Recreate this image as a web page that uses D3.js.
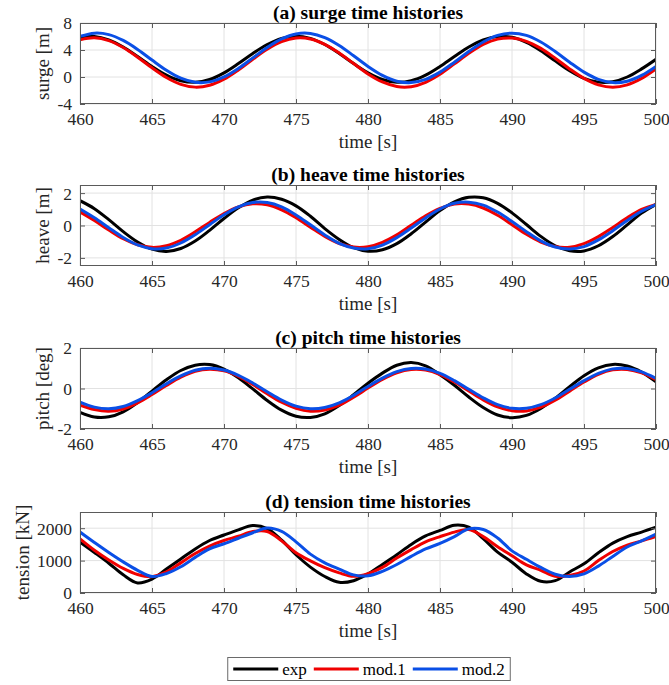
<!DOCTYPE html>
<html>
<head>
<meta charset="utf-8">
<script src="https://cdn.jsdelivr.net/npm/d3@7"></script>
<style>
  body { margin: 0; background: #fff; }
  svg { display: block; }
</style>
</head>
<body>
<svg id="chart" width="669" height="685"></svg>
<script>
// Sample times [s]
const time = d3.range(460, 501, 1);
const timeTicks = [460, 465, 470, 475, 480, 485, 490, 495, 500];

// Surge [m]
const surgeExp  = [5.88,6.01,5.50,4.44,3.03,1.55,0.27,-0.56,-0.79,-0.37,0.62,1.99,3.48,4.81,5.72,6.04,5.72,4.81,3.48,1.99,0.62,-0.37,-0.79,-0.56,0.27,1.55,3.03,4.44,5.50,6.01,5.88,5.13,3.90,2.39,0.93,-0.19,-0.76,-0.69,0.00,1.20,2.62];
const surgeMod1 = [5.52,5.80,5.39,4.37,2.94,1.36,-0.07,-1.09,-1.50,-1.22,-0.32,1.05,2.63,4.11,5.23,5.77,5.63,4.84,3.55,1.99,0.46,-0.74,-1.41,-1.43,-0.78,0.41,1.94,3.50,4.83,5.61,5.77,5.29,4.24,2.79,1.20,-0.20,-1.16,-1.50,-1.16,-0.20,1.20];
const surgeMod2 = [6.01,6.49,6.28,5.42,4.09,2.51,1.00,-0.18,-0.78,-0.72,0.02,1.28,2.83,4.38,5.64,6.38,6.45,5.84,4.67,3.15,1.57,0.24,-0.62,-0.83,-0.35,0.72,2.19,3.78,5.19,6.16,6.50,6.16,5.19,3.78,2.19,0.72,-0.35,-0.83,-0.62,0.24,1.57];
const surgeTicks = [-4, 0, 4, 8];

// Heave [m]
const heaveExp  = [1.53,1.04,0.36,-0.38,-1.02,-1.46,-1.60,-1.42,-0.96,-0.30,0.43,1.09,1.57,1.76,1.62,1.21,0.57,-0.19,-0.86,-1.37,-1.59,-1.50,-1.12,-0.51,0.21,0.92,1.46,1.74,1.71,1.37,0.78,0.06,-0.67,-1.25,-1.56,-1.57,-1.25,-0.68,0.04,0.77,1.30];
const heaveMod1 = [0.84,0.31,-0.28,-0.82,-1.19,-1.35,-1.25,-0.91,-0.39,0.19,0.74,1.15,1.34,1.28,0.97,0.48,-0.10,-0.67,-1.11,-1.33,-1.31,-1.04,-0.58,0.01,0.60,1.06,1.32,1.32,1.08,0.63,0.05,-0.54,-1.02,-1.30,-1.34,-1.12,-0.69,-0.12,0.48,0.99,1.30];
const heaveMod2 = [1.02,0.48,-0.14,-0.74,-1.20,-1.43,-1.39,-1.08,-0.57,0.05,0.66,1.15,1.42,1.42,1.15,0.65,0.04,-0.58,-1.10,-1.39,-1.44,-1.21,-0.75,-0.16,0.47,1.02,1.37,1.44,1.26,0.83,0.25,-0.38,-0.95,-1.33,-1.45,-1.30,-0.89,-0.32,0.31,0.88,1.29];
const heaveTicks = [-2, 0, 2];

// Pitch [deg]
const pitchExp  = [-1.18,-1.41,-1.40,-1.15,-0.69,-0.13,0.43,0.89,1.15,1.18,0.96,0.53,-0.02,-0.59,-1.07,-1.37,-1.43,-1.25,-0.84,-0.31,0.26,0.76,1.15,1.28,1.12,0.68,0.16,-0.42,-0.94,-1.31,-1.44,-1.33,-0.99,-0.48,0.09,0.63,1.02,1.19,1.11,0.81,0.33];
const pitchMod1 = [-0.82,-1.04,-1.12,-1.01,-0.71,-0.30,0.15,0.56,0.85,0.95,0.87,0.60,0.20,-0.26,-0.68,-0.98,-1.12,-1.06,-0.82,-0.43,0.02,0.45,0.78,0.94,0.91,0.69,0.32,-0.12,-0.56,-0.91,-1.10,-1.11,-0.92,-0.58,-0.13,0.32,0.70,0.92,0.94,0.77,0.43];
const pitchMod2 = [-0.67,-0.92,-1.00,-0.89,-0.60,-0.21,0.23,0.62,0.90,1.00,0.91,0.65,0.27,-0.16,-0.57,-0.87,-1.00,-0.94,-0.71,-0.34,0.10,0.51,0.83,0.99,0.96,0.75,0.39,-0.04,-0.46,-0.80,-0.98,-0.98,-0.80,-0.47,-0.04,0.39,0.75,0.97,0.99,0.82,0.50];
const pitchTicks = [-2, 0, 2];

// Tension [kN]
const tensionExp  = [1570,1250,920,560,310,430,740,1050,1360,1620,1790,1950,2080,1990,1630,1180,800,510,330,380,590,880,1180,1500,1760,1930,2090,2030,1680,1260,950,590,360,380,650,900,1240,1540,1740,1880,2030];
const tensionMod1 = [1670,1320,1020,760,570,505,650,930,1220,1450,1620,1750,1900,1900,1610,1240,990,780,620,515,600,790,1080,1340,1580,1740,1880,1960,1740,1430,1150,870,700,520,540,680,1000,1280,1480,1610,1750];
const tensionMod2 = [1880,1560,1250,960,700,510,600,810,1100,1360,1520,1690,1860,2005,1900,1580,1200,930,740,560,530,670,880,1130,1360,1530,1740,1980,1960,1700,1300,1040,790,580,510,590,830,1130,1420,1610,1820];
const tensionTicks = [0, 1000, 2000];

const seriesNames = ["exp", "mod.1", "mod.2"];
const seriesColors = ["#000000", "#f00000", "#0a4fe6"];

const panels = [
  { title: "(a) surge time histories",   ylabel: "surge [m]",    domain: [-4, 8],     ticks: surgeTicks,   data: [surgeExp, surgeMod1, surgeMod2] },
  { title: "(b) heave time histories",   ylabel: "heave [m]",    domain: [-2.5, 2.5], ticks: heaveTicks,   data: [heaveExp, heaveMod1, heaveMod2] },
  { title: "(c) pitch time histories",   ylabel: "pitch [deg]",  domain: [-2, 2],     ticks: pitchTicks,   data: [pitchExp, pitchMod1, pitchMod2] },
  { title: "(d) tension time histories", ylabel: "tension [kN]", domain: [0, 2500],   ticks: tensionTicks, data: [tensionExp, tensionMod1, tensionMod2] }
];

// Layout
const svg = d3.select("#chart");
const font = "'Liberation Serif', 'Times New Roman', 'DejaVu Serif', serif";
const plotLeft = 80, plotRight = 656, plotH = 81;
const panelTops = [23, 185, 348, 512];
const frameColor = "#5a5a5a";
const gridColor = "#e2e2e2";
const tickLen = 5;

panels.forEach((p, i) => {
  const top = panelTops[i];
  const bottom = top + plotH;
  const x = d3.scaleLinear().domain([460, 500]).range([plotLeft, plotRight]);
  const y = d3.scaleLinear().domain(p.domain).range([bottom, top]);
  const g = svg.append("g");

  // grid
  g.append("g").selectAll("line").data(timeTicks).join("line")
    .attr("x1", d => x(d)).attr("x2", d => x(d))
    .attr("y1", top).attr("y2", bottom)
    .attr("stroke", gridColor).attr("stroke-width", 1);
  g.append("g").selectAll("line").data(p.ticks).join("line")
    .attr("x1", plotLeft).attr("x2", plotRight)
    .attr("y1", d => y(d)).attr("y2", d => y(d))
    .attr("stroke", gridColor).attr("stroke-width", 1);

  // series
  const clipId = "clip" + i;
  svg.append("clipPath").attr("id", clipId).append("rect")
    .attr("x", plotLeft).attr("y", top).attr("width", plotRight - plotLeft).attr("height", plotH);
  const line = d3.line()
    .x((d, k) => x(time[k]))
    .y(d => y(d))
    .curve(d3.curveCatmullRom.alpha(0.5));
  g.append("g").attr("clip-path", `url(#${clipId})`)
    .selectAll("path").data(p.data).join("path")
    .attr("d", d => line(d))
    .attr("fill", "none")
    .attr("stroke", (d, k) => seriesColors[k])
    .attr("stroke-width", 3)
    .attr("stroke-linejoin", "round")
    .attr("stroke-linecap", "round");

  // axes (inward ticks on all four sides)
  const axB = g.append("g").attr("transform", `translate(0,${bottom})`)
    .call(d3.axisBottom(x).tickValues(timeTicks).tickFormat(d3.format("d"))
      .tickSizeInner(-tickLen).tickSizeOuter(0).tickPadding(9));
  const axT = g.append("g").attr("transform", `translate(0,${top})`)
    .call(d3.axisTop(x).tickValues(timeTicks).tickFormat("")
      .tickSizeInner(-tickLen).tickSizeOuter(0));
  const axL = g.append("g").attr("transform", `translate(${plotLeft},0)`)
    .call(d3.axisLeft(y).tickValues(p.ticks).tickFormat(d => String(d))
      .tickSizeInner(-tickLen).tickSizeOuter(0).tickPadding(8));
  const axR = g.append("g").attr("transform", `translate(${plotRight},0)`)
    .call(d3.axisRight(y).tickValues(p.ticks).tickFormat("")
      .tickSizeInner(-tickLen).tickSizeOuter(0));
  [axB, axT, axL, axR].forEach(a => {
    a.attr("font-family", null).attr("font-size", null);
    a.select(".domain").remove();
    a.selectAll(".tick line").attr("stroke", frameColor);
    a.selectAll("text")
      .style("font-family", font).style("font-size", "17.5px").attr("fill", "#262626");
  });
  axL.selectAll("text").attr("dy", "0.34em");

  // frame
  g.append("rect")
    .attr("x", plotLeft + 0.5).attr("y", top + 0.5)
    .attr("width", plotRight - plotLeft - 1).attr("height", plotH - 1)
    .attr("fill", "none").attr("stroke", frameColor).attr("stroke-width", 1);

  // title
  g.append("text")
    .attr("x", (plotLeft + plotRight) / 2).attr("y", top - 4)
    .attr("text-anchor", "middle")
    .style("font-family", font).style("font-weight", "bold").style("font-size", "19.5px")
    .attr("fill", "#000")
    .text(p.title);

  // x label
  g.append("text")
    .attr("x", (plotLeft + plotRight) / 2).attr("y", bottom + 44)
    .attr("text-anchor", "middle")
    .style("font-family", font).style("font-size", "19px").attr("fill", "#262626")
    .text("time [s]");

  // y label placed just left of the widest tick label
  let minX = plotLeft;
  axL.selectAll("text").each(function () {
    const b = this.getBBox();
    const m = this.getCTM();
    minX = Math.min(minX, b.x + m.e);
  });
  g.append("text")
    .attr("transform", `translate(${minX - 8},${top + plotH / 2}) rotate(-90)`)
    .attr("text-anchor", "middle")
    .style("font-family", font).style("font-size", "19px").attr("fill", "#262626")
    .text(p.ylabel);
});

// legend
const legY = 657, legH = 23, lineLen = 45;
const leg = svg.append("g");
const legBox = leg.append("rect")
  .attr("y", legY + 0.5).attr("height", legH)
  .attr("fill", "#fff").attr("stroke", "#6a6a6a").attr("stroke-width", 1);
let cx = 0;
const items = leg.append("g");
seriesNames.forEach((name, k) => {
  const it = items.append("g").attr("transform", `translate(${cx},0)`);
  it.append("line")
    .attr("x1", 0).attr("x2", lineLen)
    .attr("y1", legY + legH / 2 + 0.5).attr("y2", legY + legH / 2 + 0.5)
    .attr("stroke", seriesColors[k]).attr("stroke-width", 3);
  const t = it.append("text")
    .attr("x", lineLen + 4).attr("y", legY + legH / 2 + 6)
    .style("font-family", font).style("font-size", "17px").attr("fill", "#000")
    .text(name);
  cx += lineLen + 4 + t.node().getComputedTextLength() + 7;
});
const itemsW = cx - 7;
const legCenter = 369;
const startX = legCenter - itemsW / 2;
items.attr("transform", `translate(${startX},0)`);
legBox.attr("x", startX - 5.5).attr("width", itemsW + 11);
</script>
</body>
</html>
